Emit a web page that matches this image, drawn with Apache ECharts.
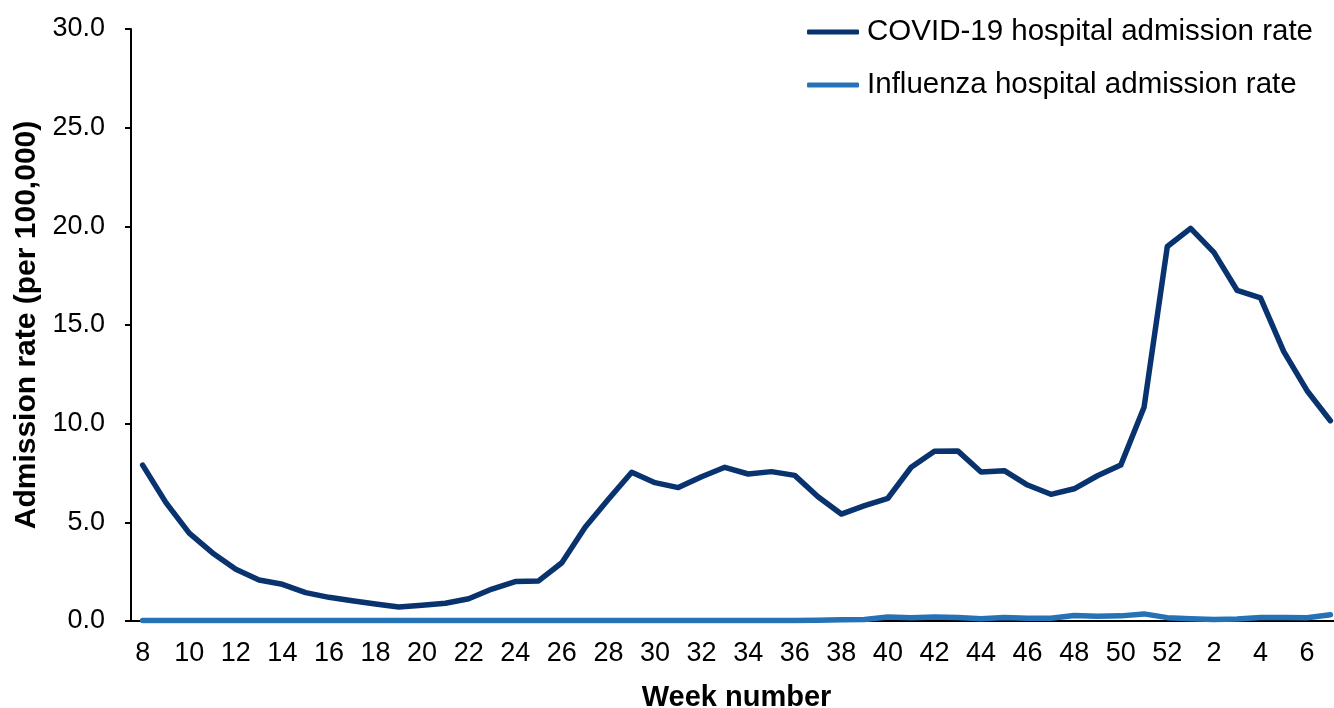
<!DOCTYPE html>
<html>
<head>
<meta charset="utf-8">
<title>Hospital admission rates</title>
<script src="https://cdn.jsdelivr.net/npm/echarts@6/dist/echarts.min.js"></script>
<style>
  html, body { margin: 0; padding: 0; background: #fff; }
  #main { width: 1334px; height: 708px; }
</style>
</head>
<body>
<div id="main"></div>
<script>
// week numbers: 8..52 then 1..7
var weeks = ['8','9','10','11','12','13','14','15','16','17','18','19','20','21','22','23','24','25','26','27',
  '28','29','30','31','32','33','34','35','36','37','38','39','40','41','42','43','44','45','46','47',
  '48','49','50','51','52','1','2','3','4','5','6','7'];

var covidRate = [7.9, 6.0, 4.45, 3.45, 2.62, 2.08, 1.86, 1.44, 1.2, 1.03, 0.86, 0.71, 0.8, 0.9, 1.13, 1.62,
  2.0, 2.03, 2.95, 4.75, 6.17, 7.54, 7.01, 6.76, 7.31, 7.79, 7.45, 7.57, 7.38, 6.3, 5.42, 5.85, 6.22,
  7.79, 8.6, 8.62, 7.55, 7.62, 6.89, 6.42, 6.7, 7.36, 7.9, 10.83, 18.98, 19.9, 18.68, 16.75, 16.37,
  13.65, 11.67, 10.15];

var fluRate = [0.02, 0.02, 0.02, 0.02, 0.02, 0.02, 0.02, 0.02, 0.02, 0.02, 0.02, 0.02, 0.02, 0.02, 0.02, 0.02,
  0.02, 0.02, 0.02, 0.02, 0.02, 0.02, 0.02, 0.02, 0.02, 0.02, 0.03, 0.03, 0.03, 0.04, 0.06, 0.08, 0.2,
  0.17, 0.2, 0.18, 0.11, 0.18, 0.14, 0.14, 0.28, 0.24, 0.26, 0.36, 0.17, 0.12, 0.08, 0.1, 0.18,
  0.18, 0.16, 0.32];

var yTicks = [0, 5, 10, 15, 20, 25, 30];

var font = 'Liberation Sans, Arial, sans-serif';
var myChart = echarts.init(document.getElementById('main'));
var option = {
    animation: false,
    textStyle: { fontFamily: font, color: '#000' },
    grid: { left: 131, right: -8, top: 29, bottom: 87, outerBoundsMode: 'none' },
    legend: {
        orient: 'vertical',
        right: 16,
        top: 12,
        itemGap: 23,
        itemWidth: 52,
        itemHeight: 5,
        icon: 'roundRect',
        textStyle: { fontSize: 29.5, color: '#000', fontFamily: font, padding: [0, 0, 0, 3] },
        data: ['COVID-19 hospital admission rate', 'Influenza hospital admission rate']
    },
    xAxis: {
        type: 'category',
        boundaryGap: true,
        data: weeks,
        name: 'Week number',
        nameLocation: 'middle',
        nameGap: 62,
        nameTextStyle: { fontSize: 29, fontWeight: 'bold', color: '#000', fontFamily: font },
        axisLine: { lineStyle: { color: '#000', width: 2 } },
        axisTick: { interval: 0, length: 6, lineStyle: { color: '#000', width: 2 } },
        axisLabel: { interval: 1, fontSize: 27, color: '#000', margin: 19, fontFamily: font }
    },
    yAxis: {
        type: 'value',
        min: yTicks[0],
        max: yTicks[yTicks.length - 1],
        interval: 5,
        name: 'Admission rate (per 100,000)',
        nameLocation: 'middle',
        nameRotate: 90,
        nameGap: 88,
        nameTextStyle: { fontSize: 30, fontWeight: 'bold', color: '#000', fontFamily: font },
        axisLine: { show: true, lineStyle: { color: '#000', width: 2 } },
        axisTick: { show: true, length: 6, lineStyle: { color: '#000', width: 2 } },
        splitLine: { show: false },
        axisLabel: {
            fontSize: 27, color: '#000', margin: 26, fontFamily: font,
            formatter: function (v) { return v.toFixed(1); }
        }
    },
    series: [
        {
            name: 'COVID-19 hospital admission rate',
            type: 'line',
            data: covidRate,
            symbol: 'none',
            itemStyle: { color: '#08336e' },
            lineStyle: { color: '#08336e', width: 5.5, cap: 'round', join: 'round' },
            z: 3
        },
        {
            name: 'Influenza hospital admission rate',
            type: 'line',
            data: fluRate,
            symbol: 'none',
            itemStyle: { color: '#2672b6' },
            lineStyle: { color: '#2672b6', width: 5.5, cap: 'round', join: 'round' },
            z: 2
        }
    ]
};
myChart.setOption(option);
</script>
</body>
</html>
